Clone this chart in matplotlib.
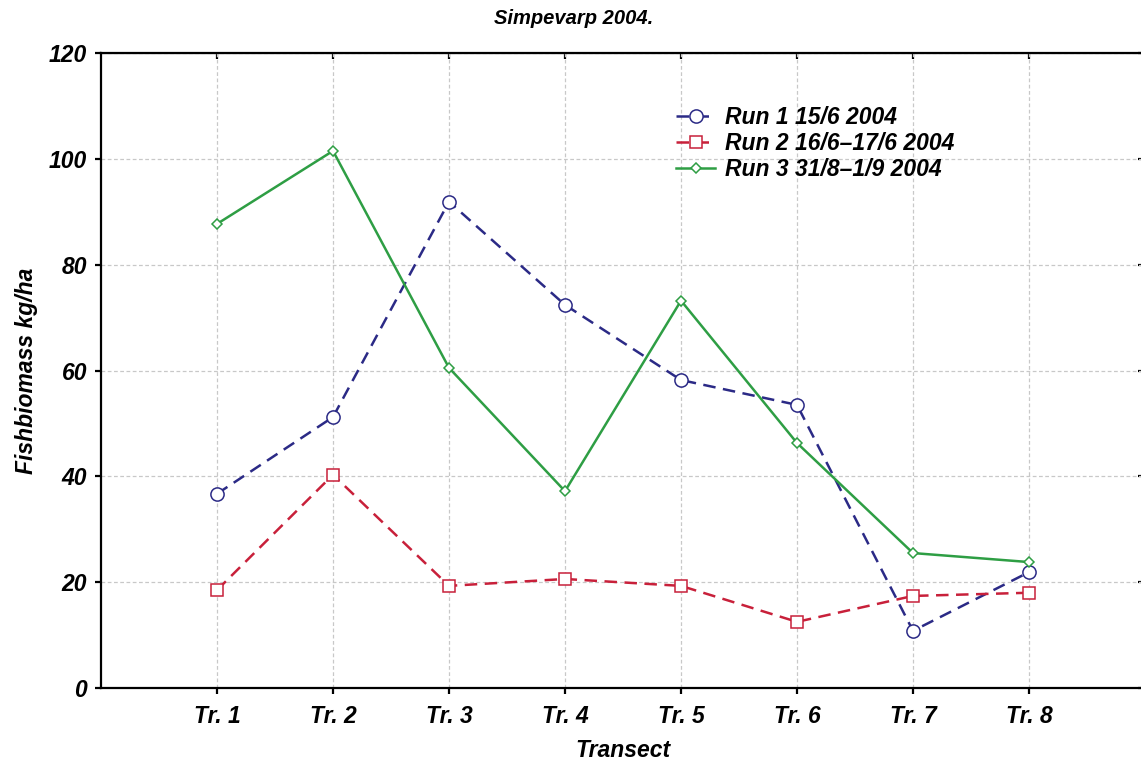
import matplotlib
matplotlib.use('Agg')
import matplotlib.pyplot as plt

plt.rcParams['font.family'] = 'Liberation Sans'
plt.rcParams['font.weight'] = 'bold'
plt.rcParams['font.style'] = 'italic'
plt.rcParams['axes.labelweight'] = 'bold'

# data
transects = ['Tr. 1', 'Tr. 2', 'Tr. 3', 'Tr. 4', 'Tr. 5', 'Tr. 6', 'Tr. 7', 'Tr. 8']
run1 = [36.7, 51.2, 91.9, 72.4, 58.2, 53.5, 10.8, 21.9]
run2 = [18.5, 40.3, 19.3, 20.6, 19.3, 12.5, 17.4, 18.0]
run3 = [87.7, 101.5, 60.5, 37.2, 73.2, 46.3, 25.5, 23.8]
labels = ['Run 1 15/6 2004', 'Run 2 16/6\u201317/6 2004', 'Run 3 31/8\u20131/9 2004']

x = list(range(1, len(transects) + 1))
fs = 16.5

fig = plt.figure(figsize=(11.41, 7.65), dpi=100)
ax = fig.add_axes([101 / 1141, 1 - 688 / 765, 1044 / 1141, 635 / 765])

ax.plot(x, run1, color='#2b2a86', lw=1.8, ls=(0, (5, 3)), marker='o', markersize=9.5,
        markerfacecolor='white', markeredgecolor='#2b2a86', markeredgewidth=1.1, label=labels[0], zorder=3)
ax.plot(x, run2, color='#c8203a', lw=1.8, ls=(0, (5, 3)), marker='s', markersize=9,
        markerfacecolor='white', markeredgecolor='#c8203a', markeredgewidth=1.1, label=labels[1], zorder=3)
ax.plot(x, run3, color='#2e9e44', lw=1.8, ls='-', marker='D', markersize=5,
        markerfacecolor='white', markeredgecolor='#2e9e44', markeredgewidth=1.1, label=labels[2], zorder=3)

ax.set_xlim(0, 9)
ax.set_ylim(0, 120)
ax.set_xticks(x)
ax.set_xticklabels(transects)
ax.set_yticks(range(0, 121, 20))

ax.grid(True, color='#c8c8c8', ls=(0, (3, 2)), lw=0.9, zorder=0)

for s in ax.spines.values():
    s.set_linewidth(1.6)

ax.tick_params(axis='both', labelsize=fs, width=1.6, length=4)
ax.tick_params(axis='x', direction='out', pad=8)
ax.tick_params(axis='y', direction='out', pad=6)

# inward ticks on top and right
top = ax.secondary_xaxis('top')
top.set_xticks(x)
top.tick_params(direction='in', length=4, width=1.6, labeltop=False)
right = ax.secondary_yaxis('right')
right.set_yticks(range(0, 121, 20))
right.tick_params(direction='in', length=5, width=1.6, labelright=False)

ax.set_xlabel('Transect', fontsize=fs, labelpad=8)
ax.set_ylabel('Fishbiomass kg/ha', fontsize=fs, labelpad=8)
fig.text(574 / 1141, 1 - 18 / 765, 'Simpevarp 2004.', ha='center', va='center', fontsize=14.5)

ax.legend(loc='upper left', bbox_to_anchor=(566 / 1044, 1 - 44 / 635), frameon=False,
          fontsize=fs, handlelength=1.7, handletextpad=0.45, labelspacing=0.12, borderaxespad=0)

fig.savefig('out.png', dpi=100)
